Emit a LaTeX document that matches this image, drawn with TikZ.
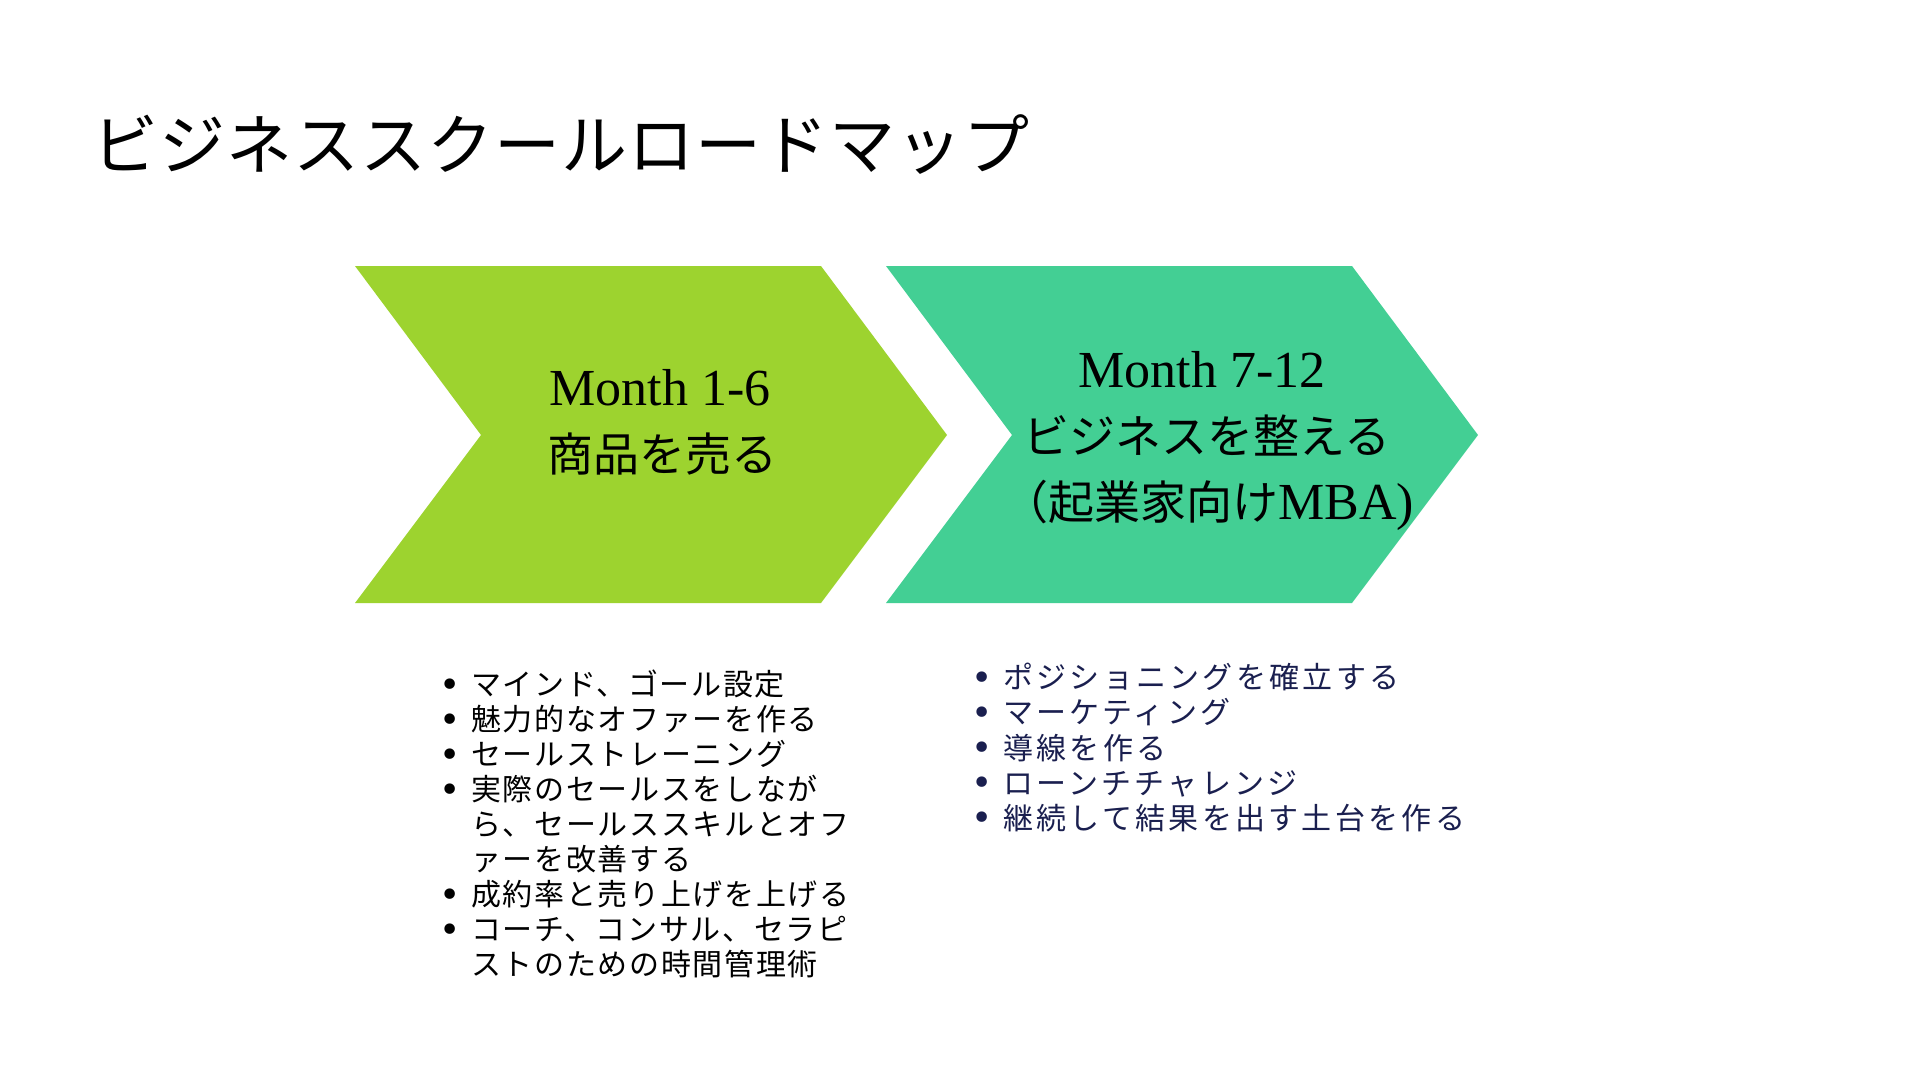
\documentclass[tikz,border=0pt]{standalone}
\usepackage{fontspec}
\setmainfont{Noto Sans CJK JP}
\newfontfamily\serifen{Liberation Serif}
\newfontfamily\listfontL[LetterSpace=5.5]{Noto Sans CJK JP}
\newfontfamily\listfontR[LetterSpace=11]{Noto Sans CJK JP}
\newfontfamily\titlefont[LetterSpace=1.5]{Noto Sans CJK JP}
\newfontfamily\bulfont{DejaVu Sans}
\definecolor{limeC}{HTML}{9DD32F}
\definecolor{mintC}{HTML}{43CF94}
\definecolor{navyT}{HTML}{1A1F4F}
\newcommand\bul{\llap{\bulfont\fontsize{36}{35}\selectfont\raisebox{-1.5pt}{•}\hspace{10pt}}}
\tikzset{
  chevtext/.style={inner sep=0pt, anchor=base, font=\fontsize{46}{60}\selectfont},
  listbox/.style={inner sep=0pt, anchor=north west, align=left},
}
\begin{document}
\begin{tikzpicture}[x=1pt,y=-1pt]
\fill[white] (0,0) rectangle (1920,1080);
\useasboundingbox (0,0) rectangle (1920,1080);

% title
\node[inner sep=0pt, anchor=base west, font={\titlefont\fontsize{66}{70}\selectfont}] (title) at (92,169) {ビジネススクールロードマップ};

% chevrons
\fill[limeC] (355,266) -- (821,266) -- (947,435) -- (821,603) -- (355,603) -- (481,435) -- cycle;
\fill[mintC] (886,266) -- (1352,266) -- (1478,435) -- (1352,603) -- (886,603) -- (1012,435) -- cycle;

% chevron texts
\node[chevtext] (c1a) at (660,405) {\serifen\fontsize{52}{60}\selectfont Month 1-6};
\node[chevtext] (c1b) at (662,471) {商品を売る};
\node[chevtext] (c2a) at (1202,387) {\serifen\fontsize{52}{60}\selectfont Month 7-12};
\node[chevtext] (c2b) at (1207,453) {ビジネスを整える};
\node[chevtext] (c2c) at (1208,519) {（起業家向け{\serifen\fontsize{52}{60}\selectfont MBA)}};

% left list
\node[listbox, font={\listfontL\fontsize{30}{35}\selectfont}] (listL) at (471,670) {%
\bul マインド、ゴール設定\\
\bul 魅力的なオファーを作る\\
\bul セールストレーニング\\
\bul 実際のセールスをしなが\\
ら、セールススキルとオフ\\
ァーを改善する\\
\bul 成約率と売り上げを上げる\\
\bul コーチ、コンサル、セラピ\\
ストのための時間管理術};

% right list
\node[listbox, text=navyT, font={\listfontR\fontsize{30}{35.2}\selectfont}] (listR) at (1003,663) {%
\bul ポジショニングを確立する\\
\bul マーケティング\\
\bul 導線を作る\\
\bul ローンチチャレンジ\\
\bul 継続して結果を出す土台を作る};
\end{tikzpicture}
\end{document}
